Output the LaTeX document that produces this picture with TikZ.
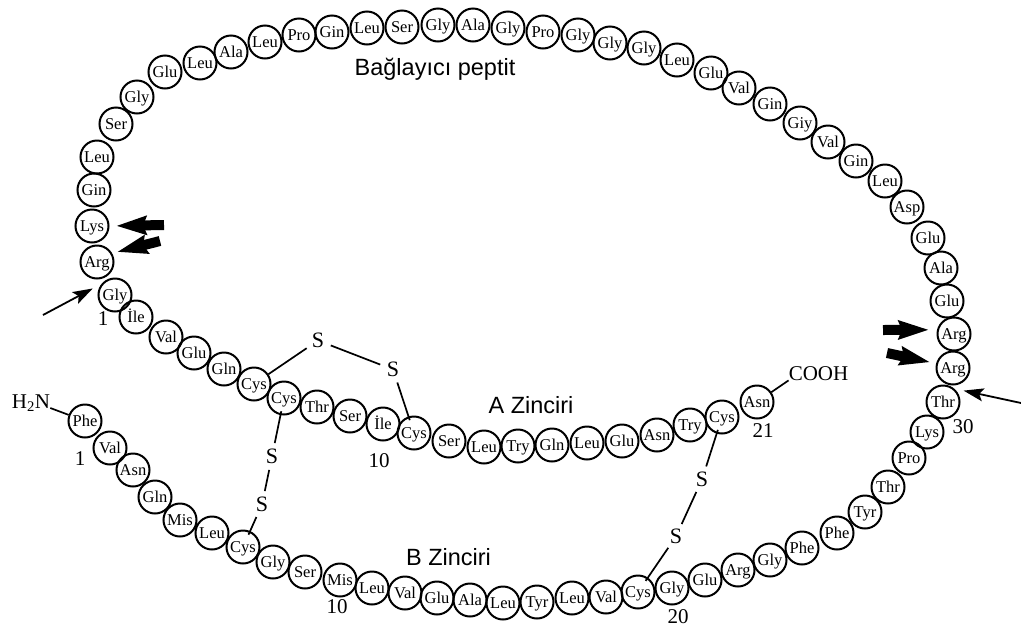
\documentclass[tikz,border=0pt]{standalone}
\usepackage{fontspec}
\setmainfont{Liberation Serif}
\newfontfamily\labsans{Liberation Sans}
\usetikzlibrary{arrows.meta}
\begin{document}
\begin{tikzpicture}[x=1pt,y=-1pt,
  aa/.style={circle,draw,line width=2pt,minimum size=33pt,inner sep=0pt,
    text height=11.2pt,text depth=0pt,font=\fontsize{16.5}{16.5}\selectfont},
  sulf/.style={circle,inner sep=0pt,minimum size=27pt,text height=14.5pt,text depth=0pt,
    font=\fontsize{22}{22}\selectfont},
  num/.style={anchor=base,inner sep=0pt,font=\fontsize{21}{21}\selectfont},
  chem/.style={anchor=base,inner sep=0pt,font=\fontsize{21}{21}\selectfont},
  chainlabel/.style={anchor=base,inner sep=0pt,font=\labsans\fontsize{23.5}{24}\selectfont},
  bond/.style={line width=1.7pt},
  cysend/.style={line width=1.7pt,shorten >=-4pt},
  cysstart/.style={line width=1.7pt,shorten <=-4pt},
  thinarrow/.style={line width=1.8pt,-{Stealth[length=20pt,width=13pt,inset=4pt]}},
  blockarrow/.style={line width=10pt,-{Stealth[length=30pt,width=18pt,inset=3pt]}}]
\useasboundingbox (0,0) rectangle (1021,630);

% A chain
\node[aa] (A1) at (115,295) {Gly};
\node[aa] (A2) at (136,317) {İle};
\node[aa] (A3) at (166,337) {Val};
\node[aa] (A4) at (194,353) {Glu};
\node[aa] (A5) at (224,369) {Gln};
\node[aa] (A6) at (254,384) {Cys};
\node[aa] (A7) at (284,398) {Cys};
\node[aa] (A8) at (317,407) {Thr};
\node[aa] (A9) at (350,416) {Ser};
\node[aa] (A10) at (383,424) {İle};
\node[aa] (A11) at (414,433) {Cys};
\node[aa] (A12) at (449,441) {Ser};
\node[aa] (A13) at (484,447) {Leu};
\node[aa] (A14) at (518,446) {Try};
\node[aa] (A15) at (552,445) {Gln};
\node[aa] (A16) at (587,443) {Leu};
\node[aa] (A17) at (622,441) {Glu};
\node[aa] (A18) at (657,435) {Asn};
\node[aa] (A19) at (690,425) {Try};
\node[aa] (A20) at (722,417) {Cys};
\node[aa] (A21) at (757,402) {Asn};

% B chain
\node[aa] (B1) at (85,421) {Phe};
\node[aa] (B2) at (110,448) {Val};
\node[aa] (B3) at (133,470) {Asn};
\node[aa] (B4) at (155,497) {Gln};
\node[aa] (B5) at (180,520) {Mis};
\node[aa] (B6) at (212,533) {Leu};
\node[aa] (B7) at (243,547) {Cys};
\node[aa] (B8) at (273,562) {Gly};
\node[aa] (B9) at (305,572) {Ser};
\node[aa] (B10) at (340,580) {Mis};
\node[aa] (B11) at (372,588) {Leu};
\node[aa] (B12) at (405,593) {Val};
\node[aa] (B13) at (437,598) {Glu};
\node[aa] (B14) at (470,600) {Ala};
\node[aa] (B15) at (503,603) {Leu};
\node[aa] (B16) at (537,602) {Tyr};
\node[aa] (B17) at (572,598) {Leu};
\node[aa] (B18) at (606,597) {Val};
\node[aa] (B19) at (638,592) {Cys};
\node[aa] (B20) at (672,588) {Gly};
\node[aa] (B21) at (705,580) {Glu};
\node[aa] (B22) at (738,570) {Arg};
\node[aa] (B23) at (770,560) {Gly};
\node[aa] (B24) at (802,548) {Phe};
\node[aa] (B25) at (837,533) {Phe};
\node[aa] (B26) at (865,512) {Tyr};
\node[aa] (B27) at (888,487) {Thr};
\node[aa] (B28) at (909,458) {Pro};
\node[aa] (B29) at (927,432) {Lys};
\node[aa] (B30) at (943,402) {Thr};

% connecting peptide
\node[aa] (C1) at (953,368) {Arg};
\node[aa] (C2) at (954,334) {Arg};
\node[aa] (C3) at (947,301) {Glu};
\node[aa] (C4) at (941,268) {Ala};
\node[aa] (C5) at (928,238) {Glu};
\node[aa] (C6) at (907,207) {Asp};
\node[aa] (C7) at (885,181) {Leu};
\node[aa] (C8) at (856,161) {Gin};
\node[aa] (C9) at (828,142) {Val};
\node[aa] (C10) at (800,123) {Giy};
\node[aa] (C11) at (770,104) {Gin};
\node[aa] (C12) at (739,88) {Val};
\node[aa] (C13) at (711,73) {Glu};
\node[aa] (C14) at (677,60) {Leu};
\node[aa] (C15) at (644,48) {Gly};
\node[aa] (C16) at (610,43) {Gly};
\node[aa] (C17) at (578,35) {Gly};
\node[aa] (C18) at (543,32) {Pro};
\node[aa] (C19) at (508,28) {Gly};
\node[aa] (C20) at (473,25) {Ala};
\node[aa] (C21) at (438,25) {Gly};
\node[aa] (C22) at (402,27) {Ser};
\node[aa] (C23) at (367,28) {Leu};
\node[aa] (C24) at (332,32) {Gin};
\node[aa] (C25) at (299,35) {Pro};
\node[aa] (C26) at (265,42) {Leu};
\node[aa] (C27) at (231,52) {Ala};
\node[aa] (C28) at (200,63) {Leu};
\node[aa] (C29) at (165,72) {Glu};
\node[aa] (C30) at (137,97) {Gly};
\node[aa] (C31) at (116,124) {Ser};
\node[aa] (C32) at (97,157) {Leu};
\node[aa] (C33) at (94,190) {Gin};
\node[aa] (C34) at (92,226) {Lys};
\node[aa] (C35) at (97,262) {Arg};

% chain labels
\node[chainlabel] (Lpep) at (435,75) {Bağlayıcı peptit};
\node[chainlabel] (LA) at (531,413) {A Zinciri};
\node[chainlabel] (LB) at (448.5,565) {B Zinciri};

% numbers
\node[num] (nA1) at (103,325) {1};
\node[num] (nB1) at (80,465) {1};
\node[num] (nA10) at (379,467) {10};
\node[num] (nB10) at (337,613) {10};
\node[num] (nA21) at (763,437) {21};
\node[num] (nB20) at (678,623) {20};
\node[num] (nB30) at (963,433) {30};

% termini
\node[chem] (H2N) at (31,408) {H\textsubscript{2}N};
\node[chem] (COOH) at (818.5,380) {COOH};
\draw[bond] (H2N.base east) -- (B1);
\draw[bond] (COOH.south west) -- (A21);

% disulfide bridges
\node[sulf] (S1) at (318,340.5) {S};
\node[sulf] (S2) at (393,369.5) {S};
\node[sulf] (S3) at (272,456.5) {S};
\node[sulf] (S4) at (262,504.5) {S};
\node[sulf] (S5) at (702,479.5) {S};
\node[sulf] (S6) at (676,536.5) {S};
\draw[bond] (A6) -- (S1);
\draw[bond] (S1) -- (S2);
\draw[cysend] (S2) -- (A11);
\draw[cysstart] (A7) -- (S3);
\draw[bond] (S3) -- (S4);
\draw[cysend] (S4) -- (B7);
\draw[cysstart] (A20) -- (S5);
\draw[bond] (S5) -- (S6);
\draw[cysend] (S6) -- (B19);

% cleavage arrows
\coordinate (tLys) at (164,225);
\coordinate (tArgL) at (160,241);
\coordinate (tArgR1) at (883,330);
\coordinate (tArgR2) at (887,353);
\coordinate (tThinL) at (43,315);
\coordinate (tThinR) at (1021,403);
\draw[blockarrow,shorten >=6.5pt] (tLys) -- (C34.east);
\draw[blockarrow,shorten >=5pt] (tArgL) -- (C35.30);
\draw[blockarrow,shorten >=8pt] (tArgR1) -- (C2.166);
\draw[blockarrow,shorten >=6pt] (tArgR2) -- (C1.165);
\draw[thinarrow,shorten >=10pt] (tThinL) -- (A1.140);
\draw[thinarrow,shorten >=9.5pt] (tThinR) -- (B30.50);
\end{tikzpicture}
\end{document}
